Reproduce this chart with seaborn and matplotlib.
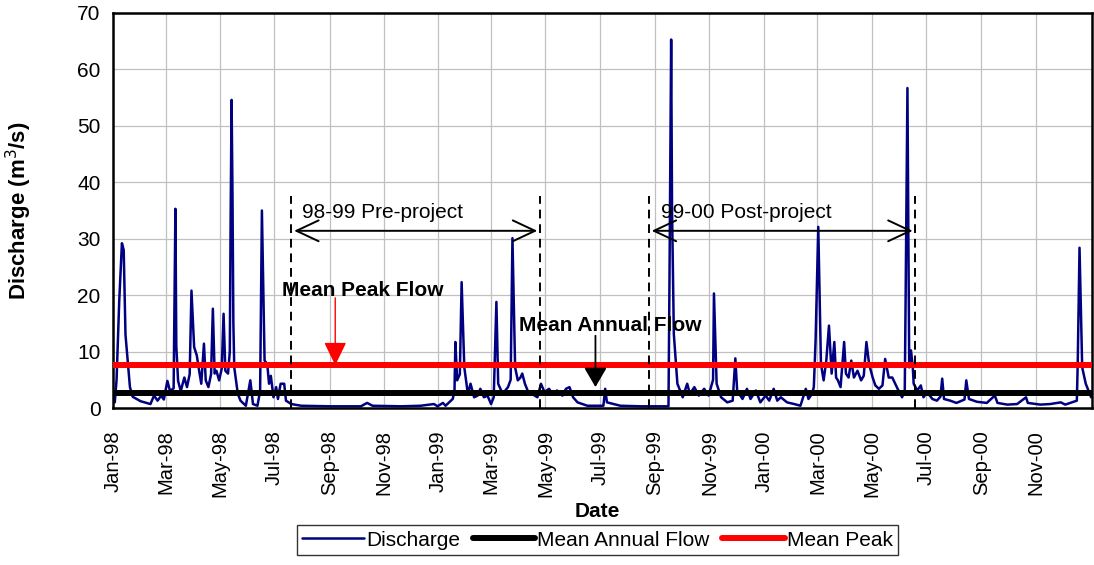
import pandas as pd
import matplotlib
matplotlib.use("Agg")
import matplotlib.pyplot as plt
import matplotlib.dates as mdates
import matplotlib.ticker as mticker
import seaborn as sns

# daily discharge at the turning points (m3/s)
discharge_dates = [
    '1998-01-03', '1998-01-05', '1998-01-08', '1998-01-11', '1998-01-13', '1998-01-15',
    '1998-01-20', '1998-01-23', '1998-02-01', '1998-02-12', '1998-02-16', '1998-02-20',
    '1998-02-24', '1998-02-27', '1998-03-03', '1998-03-06', '1998-03-10', '1998-03-12',
    '1998-03-13', '1998-03-15', '1998-03-18', '1998-03-22', '1998-03-25', '1998-03-28',
    '1998-03-30', '1998-04-02', '1998-04-05', '1998-04-07', '1998-04-10', '1998-04-13',
    '1998-04-15', '1998-04-18', '1998-04-21', '1998-04-23', '1998-04-25', '1998-04-27',
    '1998-04-30', '1998-05-03', '1998-05-05', '1998-05-07', '1998-05-10', '1998-05-12',
    '1998-05-13', '1998-05-14', '1998-05-15', '1998-05-16', '1998-05-17', '1998-05-21',
    '1998-05-24', '1998-05-30', '1998-06-04', '1998-06-07', '1998-06-12', '1998-06-15',
    '1998-06-17', '1998-06-20', '1998-06-23', '1998-06-25', '1998-06-27', '1998-06-30',
    '1998-07-03', '1998-07-05', '1998-07-08', '1998-07-12', '1998-07-14', '1998-07-20',
    '1998-07-31', '1998-09-02', '1998-10-06', '1998-10-13', '1998-10-19', '1998-11-20',
    '1998-12-12', '1998-12-27', '1998-12-31', '1999-01-06', '1999-01-09', '1999-01-17',
    '1999-01-19', '1999-01-20', '1999-01-22', '1999-01-25', '1999-01-27', '1999-01-30',
    '1999-02-03', '1999-02-06', '1999-02-10', '1999-02-14', '1999-02-17', '1999-02-21',
    '1999-02-25', '1999-03-01', '1999-03-04', '1999-03-07', '1999-03-09', '1999-03-14',
    '1999-03-20', '1999-03-23', '1999-03-25', '1999-03-28', '1999-03-31', '1999-04-03',
    '1999-04-05', '1999-04-08', '1999-04-11', '1999-04-16', '1999-04-22', '1999-04-26',
    '1999-04-30', '1999-05-05', '1999-05-09', '1999-05-14', '1999-05-20', '1999-05-24',
    '1999-05-28', '1999-06-01', '1999-06-06', '1999-06-17', '1999-07-05', '1999-07-07',
    '1999-07-09', '1999-07-24', '1999-08-16', '1999-09-16', '1999-09-17', '1999-09-19',
    '1999-09-20', '1999-09-22', '1999-09-26', '1999-10-02', '1999-10-07', '1999-10-10',
    '1999-10-15', '1999-10-20', '1999-10-26', '1999-10-31', '1999-11-05', '1999-11-06',
    '1999-11-09', '1999-11-14', '1999-11-21', '1999-11-27', '1999-11-30', '1999-12-02',
    '1999-12-08', '1999-12-13', '1999-12-17', '1999-12-23', '1999-12-28', '2000-01-03',
    '2000-01-07', '2000-01-12', '2000-01-16', '2000-01-20', '2000-01-27', '2000-02-04',
    '2000-02-11', '2000-02-17', '2000-02-20', '2000-02-24', '2000-02-26', '2000-02-28',
    '2000-03-02', '2000-03-05', '2000-03-08', '2000-03-11', '2000-03-14', '2000-03-17',
    '2000-03-20', '2000-03-22', '2000-03-24', '2000-03-27', '2000-03-31', '2000-04-02',
    '2000-04-05', '2000-04-08', '2000-04-11', '2000-04-15', '2000-04-19', '2000-04-22',
    '2000-04-25', '2000-04-28', '2000-05-02', '2000-05-05', '2000-05-09', '2000-05-13',
    '2000-05-16', '2000-05-20', '2000-05-24', '2000-05-30', '2000-06-04', '2000-06-07',
    '2000-06-08', '2000-06-10', '2000-06-12', '2000-06-14', '2000-06-16', '2000-06-17',
    '2000-06-21', '2000-06-25', '2000-06-28', '2000-07-02', '2000-07-08', '2000-07-13',
    '2000-07-17', '2000-07-19', '2000-07-21', '2000-07-28', '2000-08-04', '2000-08-13',
    '2000-08-15', '2000-08-18', '2000-08-27', '2000-09-07', '2000-09-16', '2000-09-19',
    '2000-09-30', '2000-10-11', '2000-10-21', '2000-10-23', '2000-11-06', '2000-11-17',
    '2000-11-29', '2000-12-04', '2000-12-17', '2000-12-18', '2000-12-20', '2000-12-23',
    '2000-12-27', '2000-12-30', '2001-01-02',
]
discharge_values = [
    1.0, 5.0, 19.0, 29.2, 28.0, 13.0,
    3.7, 2.0, 1.2, 0.7, 2.2, 1.3,
    2.2, 1.5, 4.8, 3.0, 3.5, 35.3,
    11.0, 4.8, 3.0, 5.4, 3.7, 6.0,
    20.8, 10.8, 9.3, 7.2, 4.3, 11.4,
    4.9, 3.7, 6.0, 17.6, 6.1, 6.6,
    4.9, 7.0, 16.7, 6.6, 6.1, 10.0,
    35.0, 54.6, 38.0, 15.0, 7.2, 2.5,
    1.3, 0.4, 4.9, 0.7, 0.4, 3.0,
    35.0, 8.4, 7.8, 4.3, 5.7, 1.9,
    3.7, 1.6, 4.3, 4.3, 1.3, 0.7,
    0.4, 0.3, 0.3, 0.9, 0.4, 0.3,
    0.4, 0.7, 0.3, 0.9, 0.4, 1.6,
    3.0, 11.7, 4.9, 6.0, 22.3, 7.2,
    2.5, 4.3, 1.9, 2.2, 3.4, 1.9,
    2.2, 0.7, 1.9, 18.8, 4.3, 2.5,
    3.7, 5.0, 30.1, 7.2, 4.9, 5.4,
    6.1, 4.3, 3.1, 2.5, 1.9, 4.3,
    2.8, 3.4, 2.5, 3.1, 2.2, 3.4,
    3.7, 1.9, 1.0, 0.4, 0.4, 3.4,
    1.0, 0.4, 0.3, 0.3, 20.0, 65.3,
    35.0, 13.1, 4.3, 1.9, 4.3, 2.5,
    3.7, 2.2, 3.4, 2.2, 5.0, 20.3,
    4.3, 1.9, 1.0, 1.3, 8.8, 3.1,
    1.6, 3.4, 1.6, 3.1, 1.0, 2.2,
    1.3, 3.4, 1.3, 1.9, 1.0, 0.7,
    0.4, 3.4, 1.6, 2.5, 3.7, 12.0,
    32.1, 7.8, 4.9, 8.4, 14.6, 6.1,
    11.7, 5.4, 4.9, 3.7, 11.7, 6.1,
    5.4, 8.4, 5.4, 6.6, 4.9, 5.7,
    11.7, 7.8, 5.4, 4.0, 3.4, 4.0,
    8.7, 5.4, 5.4, 3.4, 1.9, 3.1,
    20.0, 56.7, 7.2, 10.2, 7.2, 4.3,
    3.1, 4.0, 1.9, 2.8, 1.6, 1.3,
    2.0, 5.2, 1.6, 1.3, 0.9, 1.5,
    4.9, 1.6, 1.1, 0.9, 2.2, 0.9,
    0.6, 0.7, 1.9, 0.9, 0.6, 0.7,
    1.0, 0.6, 1.3, 8.0, 28.4, 7.2,
    4.3, 3.1, 1.9,
]

mean_annual_flow = 2.6
mean_peak = 7.6

# project periods (start, end)
pre_project = ('1998-07-20', '1999-04-25')
post_project = ('1999-08-25', '2000-06-19')
period_labels = ['98-99 Pre-project', '99-00 Post-project']

# labelled months on the date axis
tick_months = pd.date_range('1998-01-01', '2000-11-01', freq='2MS')
minor_months = pd.date_range('1998-02-01', '2000-12-01', freq='2MS')

df = pd.DataFrame({'Date': pd.to_datetime(discharge_dates), 'Discharge': discharge_values})

sns.set_style("white")
plt.rcParams['font.family'] = ['Liberation Sans', 'DejaVu Sans']
plt.rcParams['text.color'] = 'black'
plt.rcParams['axes.labelcolor'] = 'black'
plt.rcParams['xtick.color'] = 'black'
plt.rcParams['ytick.color'] = 'black'

fig = plt.figure(figsize=(10.94, 5.65), dpi=100)
ax = fig.add_axes([113 / 1094, 1 - 408 / 565, 979 / 1094, 395 / 565])

sns.lineplot(data=df, x='Date', y='Discharge', ax=ax, color='#000080', lw=1.8,
             label='Discharge', zorder=2)
ax.axhline(mean_annual_flow, color='black', lw=4.3, label='Mean Annual Flow', zorder=3)
ax.axhline(mean_peak, color='#ff0000', lw=4.3, label='Mean Peak', zorder=3)

# period markers
for start, end in [pre_project, post_project]:
    for d in (start, end):
        ax.plot([pd.Timestamp(d)] * 2, [0, 37.5], color='black', lw=1.4,
                ls=(0, (4.5, 3)), zorder=4)
    ax.annotate('', xy=(pd.Timestamp(start), 31.4), xytext=(pd.Timestamp(end), 31.4),
                arrowprops=dict(arrowstyle='<->,head_length=1.6,head_width=0.75',
                                mutation_scale=10, lw=1.4, color='black'), zorder=4)

ax.text(0.193, 0.496, period_labels[0], transform=ax.transAxes, fontsize=15,
        va='center', ha='left')
ax.text(0.560, 0.496, period_labels[1], transform=ax.transAxes, fontsize=15,
        va='center', ha='left')

ax.text(0.1728, 0.2987, 'Mean Peak Flow', transform=ax.transAxes, fontsize=15,
        fontweight='bold', va='center', ha='left', zorder=5)
ax.annotate('', xy=(0.227, 0.101), xytext=(0.227, 0.286), xycoords='axes fraction',
            arrowprops=dict(arrowstyle='-|>,head_length=1.45,head_width=0.7',
                            mutation_scale=10, lw=1.0, color='#ff0000'), zorder=5)

ax.text(0.415, 0.210, 'Mean Annual Flow', transform=ax.transAxes, fontsize=15,
        fontweight='bold', va='center', ha='left', zorder=5)
ax.annotate('', xy=(0.4928, 0.046), xytext=(0.4928, 0.19), xycoords='axes fraction',
            arrowprops=dict(arrowstyle='-|>,head_length=1.2,head_width=0.7',
                            mutation_scale=10, lw=1.3, color='black'), zorder=5)

# axes
ax.set_xlim(pd.Timestamp('1998-01-01'), pd.Timestamp('2001-01-03'))
ax.set_ylim(0, 70)
ax.set_yticks(range(0, 71, 10))
ax.xaxis.set_major_locator(mticker.FixedLocator(mdates.date2num(tick_months)))
ax.xaxis.set_minor_locator(mticker.FixedLocator(mdates.date2num(minor_months)))
ax.xaxis.set_major_formatter(mdates.DateFormatter('%b-%y'))
ax.tick_params(axis='x', which='major', length=0, pad=16, labelsize=14.5, labelrotation=90)
ax.tick_params(axis='x', which='minor', length=6, width=1, color='black', direction='out')
ax.tick_params(axis='y', which='major', length=6, width=1, color='black', direction='out',
               labelsize=15, pad=3)
ax.grid(True, which='major', color='#c0c0c0', lw=0.9)
ax.set_axisbelow(True)
for sp in ax.spines.values():
    sp.set_color('black')
    sp.set_linewidth(1.8)

ax.set_xlabel('Date', fontsize=15, fontweight='bold', va='center')
ax.xaxis.set_label_coords(0.495, -0.263)
ax.set_ylabel('Discharge (m$^3$/s)', fontsize=16, fontweight='bold', va='center')
ax.yaxis.set_label_coords(-0.096, 0.5)

handles, labels = ax.get_legend_handles_labels()
ax.get_legend().remove()
leg = fig.legend(handles, labels, loc='center', bbox_to_anchor=(0.546, 0.044), ncol=3,
                 fontsize=15, frameon=True, fancybox=False, edgecolor='black',
                 handlelength=3.0, handletextpad=0.1, columnspacing=0.6,
                 borderpad=0.25, borderaxespad=0)
leg.get_frame().set_linewidth(1.0)

fig.savefig('out.png', dpi=100)
